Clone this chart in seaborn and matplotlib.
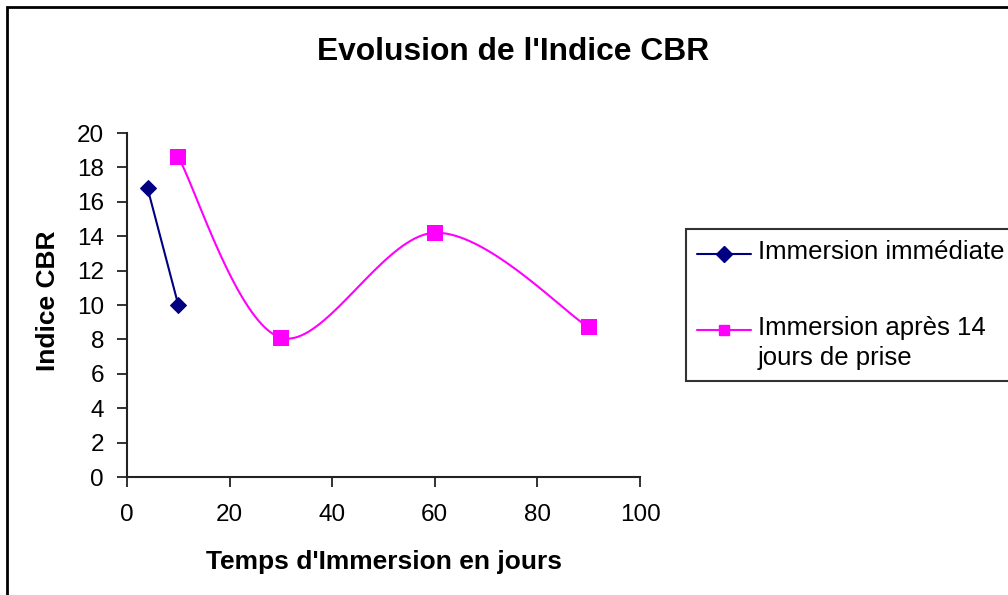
import numpy as np
import pandas as pd
import matplotlib
matplotlib.use("Agg")
import matplotlib.pyplot as plt
from matplotlib.lines import Line2D
from matplotlib.patches import Rectangle
import seaborn as sns

# Series data
days_immediate = [4, 10]
cbr_immediate = [16.8, 10.0]
days_after14 = [10, 30, 60, 90]
cbr_after14 = [18.6, 8.1, 14.2, 8.7]

label_immediate = "Immersion immédiate"
label_after14 = "Immersion après 14\njours de prise"
x_ticks = [0, 20, 40, 60, 80, 100]
y_ticks = [0, 2, 4, 6, 8, 10, 12, 14, 16, 18, 20]

NAVY = "#000080"
MAGENTA = "#FF00FF"


def smooth_curve(xs, ys, n=40):
    """Catmull-Rom style Bezier smoothing through the given points."""
    p = np.column_stack([xs, ys]).astype(float)
    ext = np.vstack([p[0], p, p[-1]])
    out = []
    t = np.linspace(0, 1, n)[:, None]
    for i in range(len(p) - 1):
        p0, p1, p2, p3 = ext[i], ext[i + 1], ext[i + 2], ext[i + 3]
        b0 = p1
        b1 = p1 + (p2 - p0) / 6.0
        b2 = p2 - (p3 - p1) / 6.0
        b3 = p2
        seg = ((1 - t) ** 3) * b0 + 3 * ((1 - t) ** 2) * t * b1 + 3 * (1 - t) * t ** 2 * b2 + t ** 3 * b3
        out.append(seg if i == 0 else seg[1:])
    c = np.vstack(out)
    return c[:, 0], c[:, 1]


sns.set_theme(style="white")
plt.rcParams["font.family"] = ["Liberation Sans", "DejaVu Sans"]
plt.rcParams["text.color"] = "black"
plt.rcParams["axes.labelcolor"] = "black"
plt.rcParams["xtick.color"] = "black"
plt.rcParams["ytick.color"] = "black"

fig = plt.figure(figsize=(10.08, 5.95), dpi=100)
ax = fig.add_axes([127 / 1008, 118 / 595, 513 / 1008, 344 / 595])

df_imm = pd.DataFrame({"jours": days_immediate, "cbr": cbr_immediate})
sns.lineplot(data=df_imm, x="jours", y="cbr", ax=ax, color=NAVY, lw=1.5,
             marker="D", markersize=8.5, markeredgecolor=NAVY, markerfacecolor=NAVY)

sx, sy = smooth_curve(days_after14, cbr_after14)
df_curve = pd.DataFrame({"jours": sx, "cbr": sy})
sns.lineplot(data=df_curve, x="jours", y="cbr", ax=ax, color=MAGENTA, lw=1.5, sort=False)
df_pts = pd.DataFrame({"jours": days_after14, "cbr": cbr_after14})
sns.scatterplot(data=df_pts, x="jours", y="cbr", ax=ax, color=MAGENTA, marker="s",
                s=120, edgecolor=MAGENTA, linewidth=0, zorder=5)

ax.set_xlim(0, 100)
ax.set_ylim(0, 20)
ax.set_xticks(x_ticks)
ax.set_yticks(y_ticks)
ax.tick_params(axis="both", which="major", direction="out", length=7, width=1.3,
               color="#222222", labelsize=17.5, bottom=True, left=True)
ax.tick_params(axis="x", pad=12.5)
ax.tick_params(axis="y", pad=9.5)
for side in ("top", "right"):
    ax.spines[side].set_visible(False)
for side in ("left", "bottom"):
    ax.spines[side].set_color("#222222")
    ax.spines[side].set_linewidth(1.5)
ax.set_facecolor("white")
ax.grid(False)

ax.set_xlabel("Temps d'Immersion en jours", fontsize=19, fontweight="bold", labelpad=17)
ax.set_ylabel("Indice CBR", fontsize=19, fontweight="bold", labelpad=12)
ax.yaxis.label.set_y(0.512)
fig.text(513 / 1008, 1 - 52 / 595, "Evolusion de l'Indice CBR", ha="center", va="center",
         fontsize=22.9, fontweight="bold")

handles = [
    Line2D([], [], color=NAVY, lw=1.5, marker="D", markersize=8,
           markerfacecolor=NAVY, markeredgecolor=NAVY),
    Line2D([], [], color=MAGENTA, lw=1.5, marker="s", markersize=7.5,
           markerfacecolor=MAGENTA, markeredgecolor=MAGENTA),
]
leg = fig.legend(handles, [label_immediate, label_after14], loc="upper left",
                 bbox_to_anchor=(686 / 1008, 1 - 229 / 595), fontsize=18.5,
                 frameon=True, fancybox=False, shadow=False, borderpad=0.42,
                 labelspacing=1.33, handlelength=2.1, handleheight=2.13,
                 handletextpad=0.27, borderaxespad=0)
leg.get_frame().set_edgecolor("black")
leg.get_frame().set_linewidth(1.5)
leg.get_texts()[1].set_linespacing(1.35)
# keep each marker level with the first line of its label
for column in leg._legend_handle_box.get_children():
    for row in column.get_children():
        row.align = "top"

# Outer chart border
fig.add_artist(Rectangle((7 / 1008, -0.1), 1.2, 1.1 - 7 / 595,
                         transform=fig.transFigure, fill=False,
                         edgecolor="black", linewidth=2))

fig.savefig("out.png", dpi=100, facecolor="white")
